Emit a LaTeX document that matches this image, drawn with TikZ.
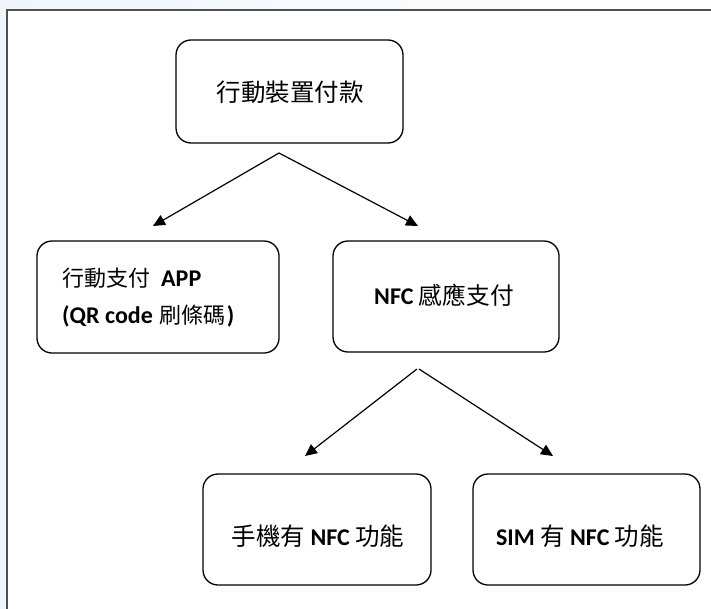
\documentclass[tikz,border=0pt]{standalone}
\usepackage{fontspec}
\setmainfont{Carlito}
\newfontfamily\cjk{Noto Sans CJK TC}
\usetikzlibrary{arrows.meta}
\definecolor{bgblue}{RGB}{240,246,251}
\definecolor{framegrey}{RGB}{80,80,80}
\tikzset{
  box/.style={draw=black, line width=1.3pt, rounded corners=15pt, inner sep=0pt},
  conn/.style={draw=black, line width=1.2pt, -{Triangle[length=12pt,width=11pt]}},
  txt/.style={inner sep=0pt, font=\fontsize{24}{28}\selectfont},
}
\newcommand{\lat}[1]{\textbf{#1}}
\begin{document}
\begin{tikzpicture}[x=1pt,y=-1pt]
\useasboundingbox (0,0) rectangle (711,608);
\shade[left color=bgblue, right color=white] (-5,-5) rectangle (720,620);
\fill[white] (7,10) rectangle (720,620);
\draw[framegrey, line width=2pt] (7,620) -- (7,10) -- (720,10);

\node[box, minimum width=227pt, minimum height=103pt] (top) at (289.5,91.5) {};
\node[txt] (toptext) at (290,92) {{\cjk\fontsize{24.5}{28}\selectfont 行動裝置付款}};

\node[box, minimum width=242pt, minimum height=112pt] (app) at (158,297) {};
\node[txt, anchor=west, align=left, font=\fontsize{24}{37}\selectfont] (apptext) at (62,298)
  {{\cjk\fontsize{22}{37}\selectfont 行動支付}\hspace{11pt}\lat{APP}\\
   \lat{(QR code}\hspace{7pt}{\cjk\fontsize{22}{37}\selectfont 刷條碼}\hspace{1pt}\lat{)}};

\node[box, minimum width=226pt, minimum height=111pt] (nfc) at (446,296.5) {};
\node[txt] (nfctext) at (444,295)
  {\lat{NFC} {\cjk\fontsize{23.7}{28}\selectfont 感應支付}};

\node[box, minimum width=228pt, minimum height=111pt] (phone) at (317,529.5) {};
\node[txt] (phonetext) at (318,536)
  {{\cjk\fontsize{24.5}{28}\selectfont 手機有} \lat{NFC} {\cjk\fontsize{24.5}{28}\selectfont 功能}};

\node[box, minimum width=227pt, minimum height=111pt] (sim) at (586.5,529.5) {};
\node[txt] (simtext) at (580,536)
  {\lat{SIM} {\cjk\fontsize{24.5}{28}\selectfont 有} \lat{NFC} {\cjk\fontsize{24.5}{28}\selectfont 功能}};

\coordinate (s1) at (279,153);
\coordinate (e1) at (153,226);
\coordinate (e2) at (418,226);
\coordinate (s2) at (417,369);
\coordinate (s3) at (419,369);
\coordinate (e3) at (305,456);
\coordinate (e4) at (553,456);
\draw[conn] (s1) -- (e1);
\draw[conn] (s1) -- (e2);
\draw[conn] (s2) -- (e3);
\draw[conn] (s3) -- (e4);
\end{tikzpicture}
\end{document}
